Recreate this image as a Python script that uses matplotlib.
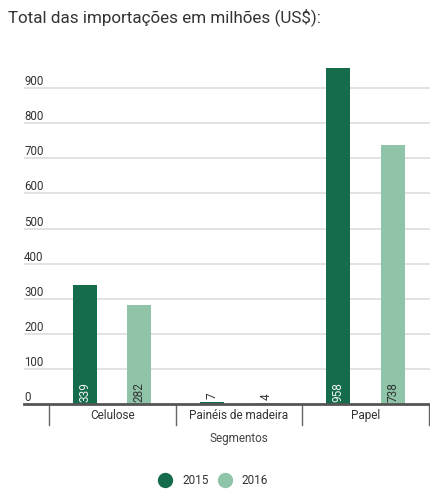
import numpy as np
import matplotlib
matplotlib.use("Agg")
import matplotlib.pyplot as plt
from matplotlib.lines import Line2D

plt.rcParams['font.family'] = ['Roboto', 'DejaVu Sans']

# dados
segmentos = ["Celulose", "Painéis de madeira", "Papel"]
anos = ["2015", "2016"]
v2015 = [339, 7, 958]
v2016 = [282, 4, 738]
yticks = [0, 100, 200, 300, 400, 500, 600, 700, 800, 900]

escuro = "#156c4b"
claro = "#8fc4a8"
texto = "#333333"

fig = plt.figure(figsize=(4.3, 4.93), dpi=100)
ax = fig.add_axes([0.056, 0.1805, 0.944, 0.712])

x = np.arange(len(segmentos))
w = 0.19
off = 0.215

b1 = ax.bar(x - off, v2015, w, color=escuro, zorder=3)
b2 = ax.bar(x + off, v2016, w, color=claro, zorder=3)

ax.set_xlim(-0.696, 2.51)
ax.set_ylim(0, 1000)

# grade
for t in yticks[1:]:
    ax.axhline(t, color="#dddddd", lw=1.2, zorder=1)
    ax.text(-0.696, t, str(t), ha="left", va="bottom", fontsize=8.3, color=texto)
ax.text(-0.696, 0, "0", ha="left", va="bottom", fontsize=8.3, color=texto)
ax.axhline(0, color="#555555", lw=2, zorder=4, clip_on=False)

# rotulos dos valores
for bars, vals, cor in [(b1, v2015, "#eef5f1"), (b2, v2016, texto)]:
    for b, v in zip(bars, vals):
        cx = b.get_x() + b.get_width() / 2
        if v < 40:
            ax.annotate(str(v), (cx, v), xytext=(0, 2), textcoords="offset points",
                        rotation=90, ha="center", va="bottom", fontsize=8.5, color=texto,
                        zorder=5)
        else:
            ax.annotate(str(v), (cx, 0), xytext=(0, 1.5), textcoords="offset points",
                        rotation=90, ha="center", va="bottom", fontsize=8.5, color=cor,
                        zorder=5)

# separadores e categorias
tr = ax.get_xaxis_transform()
for s in np.arange(len(segmentos) + 1) - 0.5:
    ax.plot([s, s], [0, -0.06], transform=tr, color="#666666", lw=1, clip_on=False)
for xi, nome in zip(x, segmentos):
    ax.text(xi, -0.034, nome, transform=tr, ha="center", va="center",
            fontsize=8.5, color=texto)
ax.text(1, -0.097, "Segmentos", transform=tr, ha="center", va="center",
        fontsize=8.5, color="#444444")

for sp in ax.spines.values():
    sp.set_visible(False)
ax.set_xticks([])
ax.set_yticks([])

fig.text(0.019, 0.966, "Total das importações em milhões (US$):", fontsize=12.25,
         color=texto, ha="left", va="center")

handles = [Line2D([], [], marker="o", ls="", markersize=10, color=c) for c in (escuro, claro)]
fig.legend(handles, anos, loc="center", bbox_to_anchor=(0.49, 0.026), ncol=2,
           frameon=False, fontsize=8.5, handletextpad=0.4, columnspacing=0.4,
           labelcolor=texto)

fig.savefig("out.png", dpi=100)
